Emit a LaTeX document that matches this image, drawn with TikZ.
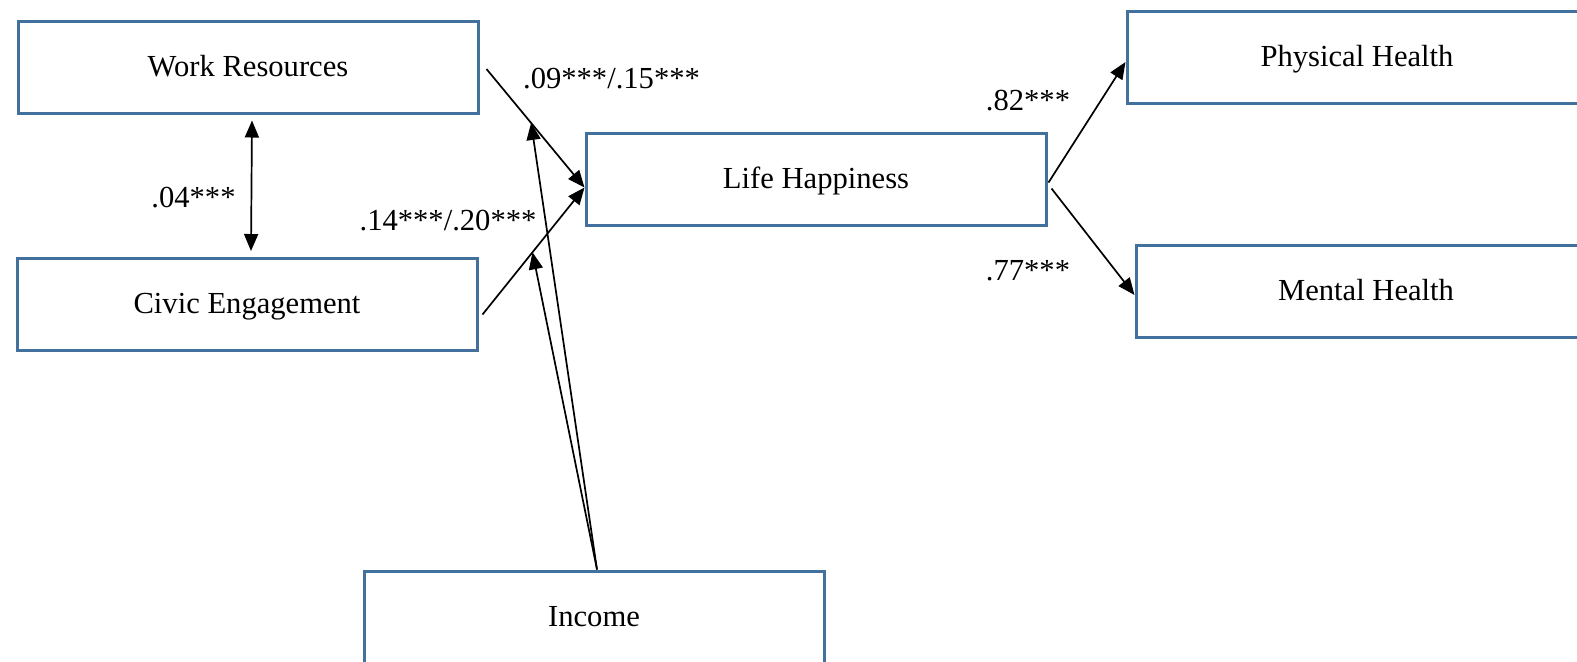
\documentclass[tikz,border=0pt]{standalone}
\usepackage{fontspec}
\setmainfont{Liberation Serif}
\usetikzlibrary{arrows.meta,calc}
\definecolor{boxblue}{RGB}{65,113,156}
\begin{document}
\begin{tikzpicture}[x=0.5pt,y=-0.5pt,
  box/.style={draw=boxblue,line width=1.5pt,minimum width=230pt,minimum height=46pt,
    inner sep=0pt,font=\fontsize{15.3}{18}\selectfont,text height=0.92em,text depth=0pt},
  lbl/.style={anchor=base,inner sep=0pt,font=\fontsize{15.3}{18}\selectfont},
  arr/.style={line width=0.85pt,-{Triangle[length=8.5pt,width=7pt]}},
  darr/.style={line width=0.85pt,{Triangle[length=8.5pt,width=7pt]}-{Triangle[length=8.5pt,width=7pt]}}]
\useasboundingbox (0,0) rectangle (1577,661);
\clip (0,0) rectangle (1577,661);
\fill[white] (0,0) rectangle (1577,661);

\node[box] (WR) at (248,67) {Work Resources};
\node[box] (CE) at (247,304.5) {Civic Engagement};
\node[box] (LH) at (816,179.5) {Life Happiness};
\node[box] (PH) at (1357,57) {Physical Health};
\node[box] (MH) at (1366,291.5) {Mental Health};
\node[box] (IN) at (594,617) {Income};

\coordinate (wrs) at ([shift={(7,2)}]WR.east);
\coordinate (ces) at ([shift={(4,10)}]CE.east);
\coordinate (lht) at ([shift={(0,8)}]LH.west);
\coordinate (ins) at ([shift={(3,0)}]IN.north);

\draw[arr] (wrs) -- (lht) coordinate[pos=0.455] (m1);
\draw[arr] (ces) -- (lht) coordinate[pos=0.49] (m2);
\draw[arr] (ins) -- (m1);
\draw[arr] (ins) -- (m2);

\draw[darr] ([shift={(4,6)}]WR.south) -- ([shift={(4,-6)}]CE.north);

\draw[arr] ([shift={(1,3)}]LH.east) -- ([shift={(0,5)}]PH.west);
\draw[arr] ([shift={(4,9)}]LH.east) -- ([shift={(0,3.5)}]MH.west);

\node[lbl] (l1) at (611.5,88) {.09***/.15***};
\node[lbl] (l2) at (193.5,207) {.04***};
\node[lbl] (l3) at (448,230) {.14***/.20***};
\node[lbl] (l4) at (1028,110) {.82***};
\node[lbl] (l5) at (1028,280) {.77***};
\end{tikzpicture}
\end{document}
